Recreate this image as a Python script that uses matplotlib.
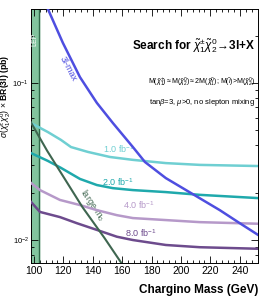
import matplotlib
matplotlib.use('Agg')
import matplotlib.pyplot as plt
from matplotlib.ticker import FixedLocator, NullFormatter, FuncFormatter

plt.rcParams['font.family'] = ['Liberation Sans', 'DejaVu Sans']
plt.rcParams['mathtext.fontset'] = 'custom'
plt.rcParams['mathtext.rm'] = 'Liberation Sans'
plt.rcParams['mathtext.it'] = 'Liberation Sans:italic'
plt.rcParams['mathtext.bf'] = 'Liberation Sans:bold'

# chargino mass (GeV) vs sigma x BR (pb)
m_1fb = [98, 109.5, 118.4, 125.2, 136.7, 151.7, 167.3, 189.7, 212.8, 252.3]
xs_1fb = [0.0556, 0.0487, 0.0434, 0.0391, 0.0364, 0.0338, 0.0324, 0.0309, 0.0301, 0.0296]

m_2fb = [98, 109.5, 118.4, 131.3, 142.8, 153.7, 167.3, 189.7, 212.8, 252.3]
xs_2fb = [0.0358, 0.0319, 0.0288, 0.0245, 0.0224, 0.0214, 0.0208, 0.0202, 0.0194, 0.0185]

m_4fb = [98, 104.1, 117.7, 131.3, 142.8, 156.4, 167.3, 189.7, 212.8, 252.3]
xs_4fb = [0.0231, 0.0208, 0.0180, 0.0167, 0.0155, 0.0144, 0.0138, 0.0134, 0.0130, 0.0127]

m_8fb = [98, 104.1, 117.7, 129.2, 142.8, 156.4, 167.3, 189.7, 212.8, 252.3]
xs_8fb = [0.0175, 0.0151, 0.0140, 0.0128, 0.0116, 0.0105, 0.0100, 0.0093, 0.0090, 0.0088]

m_3lmax = [108, 109.5, 119.7, 131.3, 142.8, 153.7, 167.3, 175.5, 189.7, 210.1, 226.4, 240.0, 252.3]
xs_3lmax = [0.32, 0.296, 0.180, 0.109, 0.0747, 0.0556, 0.0391, 0.0314, 0.0248, 0.0191, 0.0155, 0.0128, 0.0108]

m_largem0 = [98, 109, 133, 148, 161]
xs_largem0 = [0.056, 0.037, 0.0162, 0.0103, 0.0068]

lep_limit = 103.4

fig = plt.figure(figsize=(2.66, 3.0), dpi=100)
ax = fig.add_axes([0.1165, 0.1233, 0.8535, 0.8467])

# LEP excluded band
ax.axvspan(97, lep_limit, color='#82c49e', zorder=1)
ax.axvline(lep_limit, color='#2f6a4a', lw=1.0, zorder=2)
ax.text(100.7, 0.19, 'LEP', rotation=90, color='white', fontsize=5,
        ha='center', va='center', zorder=3)

ax.plot(m_1fb, xs_1fb, color='#6fcfd2', lw=1.8, zorder=4)
ax.plot(m_2fb, xs_2fb, color='#1fa9ac', lw=1.8, zorder=4)
ax.plot(m_4fb, xs_4fb, color='#b699c9', lw=1.8, zorder=4)
ax.plot(m_8fb, xs_8fb, color='#6d4b8d', lw=1.8, zorder=4)
ax.plot(m_largem0, xs_largem0, color='#3f6650', lw=1.5, zorder=5)
ax.plot(m_3lmax, xs_3lmax, color='#4e4ee0', lw=1.8, zorder=6)

# curve labels
ax.text(146.9, 0.038, r'1.0 fb$^{-1}$', color='#6fcfd2', fontsize=6.5, va='center')
ax.text(146.2, 0.0234, r'2.0 fb$^{-1}$', color='#1fa9ac', fontsize=6.5, va='center')
ax.text(160.5, 0.0167, r'4.0 fb$^{-1}$', color='#b699c9', fontsize=6.5, va='center')
ax.text(161.9, 0.0111, r'8.0 fb$^{-1}$', color='#6d4b8d', fontsize=6.5, va='center')
ax.text(123.5, 0.123, '3l-max', color='#4e4ee0', fontsize=6.5, rotation=-62,
        ha='center', va='center')
ax.text(140.1, 0.0167, r'large-m$_0$', color='#3f6650', fontsize=6.5, rotation=-56,
        ha='center', va='center')

# title and notes
ax.text(0.985, 0.855, r'Search for $\tilde{\chi}_1^{\pm}\tilde{\chi}_2^0\!\rightarrow\!$3l+X',
        transform=ax.transAxes, ha='right', va='center', fontsize=8.5, fontweight='bold')
ax.text(0.985, 0.71,
        r'M($\tilde{\chi}_1^{\pm}$)$\approx$M($\tilde{\chi}_2^0$)$\approx$2M($\tilde{\chi}_1^0$); M($\tilde{l}$)>M($\tilde{\chi}_2^0$)',
        transform=ax.transAxes, ha='right', va='center', fontsize=5)
ax.text(0.985, 0.63, r'tan$\beta$=3, $\mu$>0, no slepton mixing',
        transform=ax.transAxes, ha='right', va='center', fontsize=5.5)

ax.set_xlim(98, 252.4)
ax.set_yscale('log')
ax.set_ylim(0.00714, 0.296)

ax.set_xticks([100, 120, 140, 160, 180, 200, 220, 240])
ax.xaxis.set_minor_locator(FixedLocator(list(range(100, 252, 4))))
ax.yaxis.set_major_locator(FixedLocator([0.01, 0.1]))
ax.yaxis.set_major_formatter(FuncFormatter(
    lambda v, pos: r'10$^{-1}$' if v > 0.05 else r'10$^{-2}$'))
ax.yaxis.set_minor_locator(FixedLocator([0.007, 0.008, 0.009, 0.02, 0.03, 0.04, 0.05,
                                         0.06, 0.07, 0.08, 0.09, 0.2]))
ax.yaxis.set_minor_formatter(NullFormatter())
ax.tick_params(which='both', direction='in', top=True, right=True, width=0.6, pad=2)
ax.tick_params(axis='x', labelsize=7.5)
ax.tick_params(axis='y', labelsize=5.5, pad=1.5)
ax.tick_params(which='major', length=5)
ax.tick_params(which='minor', length=2.5)
for s in ax.spines.values():
    s.set_linewidth(0.7)

fig.text(0.97, 0.035, 'Chargino Mass (GeV)', ha='right', va='center',
         fontsize=8.5, fontweight='bold')
fig.text(0.022, 0.68, r'$\sigma(\tilde{\chi}_1^{\pm}\tilde{\chi}_2^0)$ $\times$ BR(3l) (pb)',
         rotation=90, ha='center', va='center', fontsize=6.2, fontweight='bold')

fig.savefig('out.png', dpi=100)
